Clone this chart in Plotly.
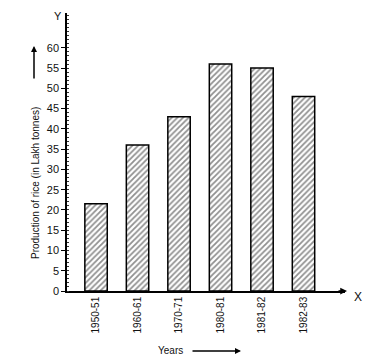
import plotly.graph_objects as go

years = ["1950-51", "1960-61", "1970-71", "1980-81", "1981-82", "1982-83"]
production = [21.5, 36, 43, 56, 55, 48]
y_ticks = [0, 5, 10, 15, 20, 25, 30, 35, 40, 45, 50, 55, 60]

W, H = 391, 363
L, R, T, B = 67, 46, 13, 72
pw, ph = W - L - R, H - T - B

def px(x):
    return (x - L) / pw

def py(y):
    return (H - B - y) / ph

fig = go.Figure()
fig.add_trace(go.Bar(
    x=list(range(len(years))),
    y=production,
    width=0.54,
    marker=dict(
        color="white",
        line=dict(color="black", width=1.5),
        pattern=dict(shape="/", fgcolor="#222", bgcolor="white", size=4, solidity=0.45),
    ),
))

font = dict(family="Liberation Sans, Arial, sans-serif", color="#111")

fig.update_layout(
    width=W, height=H,
    margin=dict(l=L, r=R, t=T, b=B),
    paper_bgcolor="white", plot_bgcolor="white",
    showlegend=False,
    font=font,
    xaxis=dict(
        range=[-0.7, 6.0],
        tickmode="array",
        tickvals=list(range(len(years))),
        ticktext=years,
        tickangle=-90,
        tickfont=dict(size=10, **font),
        showgrid=False, zeroline=False,
        showline=True, linecolor="black", linewidth=1.5,
        ticks="", ticklen=0,
    ),
    yaxis=dict(
        range=[0, 68.6],
        tickmode="array",
        tickvals=y_ticks,
        ticks="outside", ticklen=4, tickcolor="black",
        tickfont=dict(size=11, **font),
        showgrid=False, zeroline=False,
        showline=True, linecolor="black", linewidth=1.5,
        minor=dict(dtick=1, ticks="inside", ticklen=2, tickcolor="#333"),
    ),
)

def label(text, x, y, size, angle=0):
    return dict(text=text, x=px(x), y=py(y), xref="paper", yref="paper", showarrow=False,
                xanchor="center", yanchor="middle", textangle=angle,
                font=dict(size=size, **font))

def arrow(x, y, ax, ay, size=0.8):
    return dict(text="", x=px(x), y=py(y), xref="paper", yref="paper", showarrow=True,
                ax=ax, ay=ay, axref="pixel", ayref="pixel", arrowhead=2, arrowsize=size,
                arrowwidth=1.5, arrowcolor="black")

anns = [
    label("Y", 58, 16, 11),
    label("X", 358, 297, 12),
    label("Production of rice (in Lakh tonnes)", 35, 183, 10, -90),
    label("Years", 170, 350, 10),
    arrow(34, 46, 0, 34),
    arrow(241, 351, -50, 0),
    arrow(347, 291, -10, 0, 0.9),
]
fig.update_layout(annotations=anns)

fig.write_html("out.html")
